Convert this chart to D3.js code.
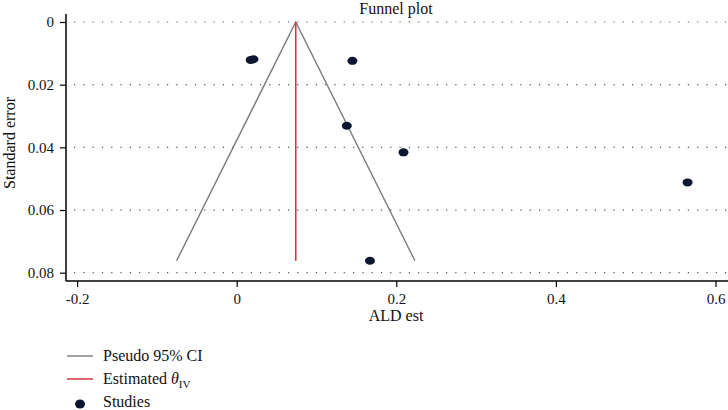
<!DOCTYPE html>
<html><head><meta charset="utf-8">
<script src="https://cdn.jsdelivr.net/npm/d3@7"></script>
<style>body{margin:0;background:#fff}svg text{font-family:"Liberation Serif","DejaVu Serif",serif;fill:#111}</style>
</head><body><svg id="c" width="728" height="410"></svg>
<script>
const studyEst = [0.0175, 0.021, 0.145, 0.138, 0.209, 0.565, 0.167];
const studySE  = [0.0121, 0.0119, 0.0124, 0.0331, 0.0416, 0.0512, 0.0762];
const thetaIV = 0.074;
const maxSE = 0.0762;
const xTicks = [-0.2, 0, 0.2, 0.4, 0.6];
const yTicks = [0, 0.02, 0.04, 0.06, 0.08];
const legendLabels = ["Pseudo 95% CI", "Estimated θ", "Studies"];

const svg = d3.select("#c");
const x = d3.scaleLinear().domain([0, 0.6]).range([236.7, 715.5]);
const y = d3.scaleLinear().domain([0, 0.08]).range([22, 272.7]);
const left = 66, right = 728, bottom = 281;

// gridlines
svg.append("g").selectAll("line").data(yTicks).join("line")
  .attr("x1", left + 8).attr("x2", right).attr("y1", d => y(d)).attr("y2", d => y(d))
  .attr("stroke", "#555").attr("stroke-width", 1.2).attr("stroke-dasharray", "1.2,8.1");

// axes
const xAxis = svg.append("g").attr("transform", `translate(0,${bottom})`)
  .call(d3.axisBottom(x).tickValues(xTicks).tickFormat(d => String(d)).tickSize(6).tickPadding(6));
xAxis.select(".domain").attr("d", `M${left},0H${right}`).attr("stroke", "#000").attr("stroke-width", 1.5);
const yAxis = svg.append("g").attr("transform", `translate(${left},0)`)
  .call(d3.axisLeft(y).tickValues(yTicks).tickFormat(d => String(d)).tickSize(6).tickPadding(6));
yAxis.select(".domain").attr("d", `M0,14V${bottom}`).attr("stroke", "#000").attr("stroke-width", 1.5);
svg.selectAll(".tick line").attr("stroke", "#000").attr("stroke-width", 1.2);
svg.selectAll(".tick text").style("font-size", "15px").attr("fill", "#111");

// funnel
const funnel = [[thetaIV - 1.96 * maxSE, maxSE], [thetaIV, 0], [thetaIV + 1.96 * maxSE, maxSE]];
svg.append("path").attr("d", d3.line().x(d => x(d[0])).y(d => y(d[1]))(funnel))
  .attr("fill", "none").attr("stroke", "#7a7a7a").attr("stroke-width", 1.4);
svg.append("line").attr("x1", x(thetaIV)).attr("x2", x(thetaIV)).attr("y1", y(0)).attr("y2", y(maxSE))
  .attr("stroke", "#e0303a").attr("stroke-width", 1.6);

// points
svg.append("g").selectAll("ellipse").data(studyEst).join("ellipse")
  .attr("cx", d => x(d)).attr("cy", (d, i) => y(studySE[i])).attr("rx", 5).attr("ry", 4)
  .attr("fill", "#0b1630");

// titles
svg.append("text").attr("x", 396).attr("y", 14).attr("text-anchor", "middle").style("font-size", "16px").text("Funnel plot");
svg.append("text").attr("x", 396).attr("y", 321).attr("text-anchor", "middle").style("font-size", "16px").text("ALD est");
svg.append("text").attr("transform", "translate(15,143) rotate(-90)").attr("text-anchor", "middle").style("font-size", "16px").text("Standard error");

// legend
const lg = svg.append("g");
lg.append("line").attr("x1", 67).attr("x2", 93).attr("y1", 356).attr("y2", 356).attr("stroke", "#7a7a7a").attr("stroke-width", 1.4);
lg.append("text").attr("x", 103).attr("y", 361).style("font-size", "16px").text(legendLabels[0]);
lg.append("line").attr("x1", 67).attr("x2", 93).attr("y1", 379).attr("y2", 379).attr("stroke", "#d0202a").attr("stroke-width", 1.4);
const t2 = lg.append("text").attr("x", 103).attr("y", 384).style("font-size", "16px");
t2.append("tspan").text("Estimated ");
t2.append("tspan").style("font-style", "italic").text("θ");
t2.append("tspan").attr("dy", 4).style("font-size", "11px").text("IV");
lg.append("ellipse").attr("cx", 80).attr("cy", 404).attr("rx", 5).attr("ry", 4.5).attr("fill", "#0b1630");
lg.append("text").attr("x", 103).attr("y", 407).style("font-size", "16px").text(legendLabels[2]);
</script></body></html>
